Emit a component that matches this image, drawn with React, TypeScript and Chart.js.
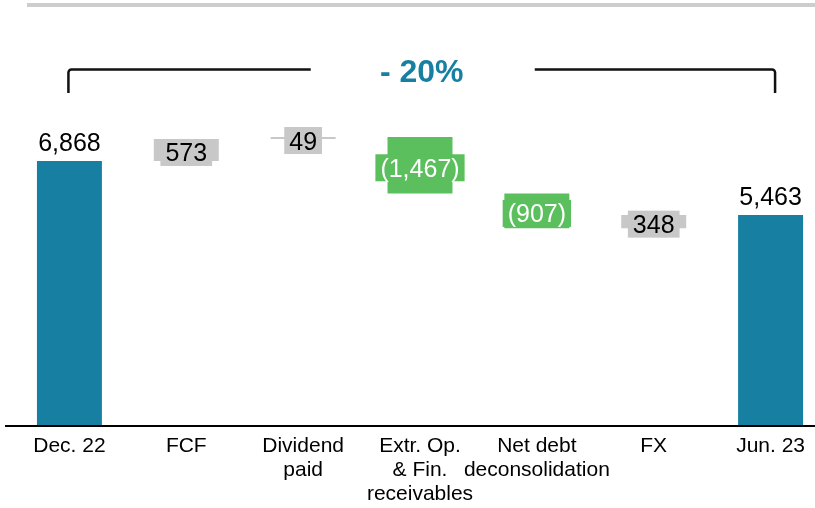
import React, { useEffect, useRef } from "react";
import { Chart, registerables } from "chart.js";

Chart.register(...registerables);

const categories: string[][] = [
  ["Dec. 22"],
  ["FCF"],
  ["Dividend", "paid"],
  ["Extr. Op.", "& Fin.", "receivables"],
  ["Net debt", "deconsolidation"],
  ["FX"],
  ["Jun. 23"],
];
const kinds = ["total", "delta", "delta", "delta", "delta", "delta", "total"];
const values = [6868, 573, 49, -1467, -907, 348, 5463];
const valueLabels = ["6,868", "573", "49", "(1,467)", "(907)", "348", "5,463"];
const changeLabel = "- 20%";

const FONT = "'Liberation Sans', Arial, sans-serif";
const BLUE = "#177fa2";
const GRAY = "#c8c8c8";
const GREEN = "#5bbf5d";

function buildFloating() {
  let running = 0;
  return values.map((v, i) => {
    if (kinds[i] === "total") {
      running = v;
      return [0, v];
    }
    const start = running;
    running += v;
    return [start, running];
  });
}

const colors = values.map((v, i) =>
  kinds[i] === "total" ? BLUE : v >= 0 ? GRAY : GREEN
);

const decorPlugin = {
  id: "decor",
  afterDatasetsDraw(chart: any) {
    const { ctx, chartArea } = chart;
    const meta = chart.getDatasetMeta(0);
    const xs = chart.scales.x;
    ctx.save();

    // top gray rule
    ctx.fillStyle = "#cdcdcd";
    ctx.fillRect(27, 3, 820, 4);

    // axis line
    ctx.strokeStyle = "#000";
    ctx.lineWidth = 2;
    ctx.beginPath();
    ctx.moveTo(5, chartArea.bottom + 1);
    ctx.lineTo(840, chartArea.bottom + 1);
    ctx.stroke();

    // value labels
    meta.data.forEach((bar: any, i: number) => {
      const txt = valueLabels[i];
      ctx.font = `25px ${FONT}`;
      ctx.textAlign = "center";
      ctx.textBaseline = "alphabetic";
      if (kinds[i] === "total") {
        ctx.fillStyle = "#000";
        ctx.fillText(txt, bar.x, Math.min(bar.y, bar.base) - 10);
      } else {
        const top = Math.min(bar.y, bar.base);
        const bot = Math.max(bar.y, bar.base);
        const cy = (top + bot) / 2 + 2.5;
        const tw = ctx.measureText(txt).width;
        const w = tw + 10;
        const h = 27;
        ctx.fillStyle = colors[i];
        ctx.fillRect(bar.x - w / 2, cy - h / 2, w, h);
        ctx.fillStyle = colors[i] === GREEN ? "#fff" : "#000";
        ctx.fillText(txt, bar.x, cy + 9);
      }
    });

    // bracket
    const left = xs.getPixelForValue(0) - 1;
    const right = xs.getPixelForValue(6) + 4.5;
    const mid = (left + right) / 2;
    const yTop = 69.5;
    const yBot = 93;
    ctx.strokeStyle = "#111";
    ctx.lineWidth = 2.5;
    ctx.lineJoin = "round";
    ctx.beginPath();
    ctx.moveTo(left, yBot);
    ctx.arcTo(left, yTop, left + 10, yTop, 3);
    ctx.lineTo(mid - 111, yTop);
    ctx.stroke();
    ctx.beginPath();
    ctx.moveTo(mid + 113, yTop);
    ctx.arcTo(right, yTop, right, yBot, 3);
    ctx.lineTo(right, yBot);
    ctx.stroke();

    ctx.fillStyle = BLUE;
    ctx.font = `bold 32px ${FONT}`;
    ctx.textAlign = "center";
    ctx.textBaseline = "alphabetic";
    ctx.fillText(changeLabel, mid, 82);

    ctx.restore();
  },
};

export default function App() {
  const ref = useRef<HTMLCanvasElement | null>(null);
  useEffect(() => {
    const canvas = ref.current!;
    const chart = new Chart(canvas, {
      type: "bar",
      data: {
        labels: categories as any,
        datasets: [
          {
            data: buildFloating() as any,
            backgroundColor: colors,
            barPercentage: 0.556,
            categoryPercentage: 1,
            borderSkipped: false,
          },
        ],
      },
      options: {
        responsive: false,
        animation: false,
        devicePixelRatio: 1,
        layout: { padding: { left: 11, right: 6, top: 0, bottom: 0 } },
        plugins: { legend: { display: false }, tooltip: { enabled: false } },
        scales: {
          x: {
            grid: { display: false, drawTicks: false },
            border: { display: false },
            ticks: {
              font: { family: FONT, size: 21, lineHeight: 1.15 },
              color: "#000",
              padding: 9,
              maxRotation: 0,
              autoSkip: false,
            },
            afterFit: (s: any) => {
              s.height = 83;
            },
          },
          y: { display: false, min: 0, max: 11056 },
        },
      },
      plugins: [decorPlugin],
    });
    return () => chart.destroy();
  }, []);
  return (
    <div
      style={{
        position: "fixed",
        left: 0,
        top: 0,
        width: 815,
        height: 508,
        overflow: "hidden",
        background: "#fff",
      }}
    >
      <canvas ref={ref} width={835} height={508} style={{ width: 835, height: 508, display: "block" }} />
    </div>
  );
}
